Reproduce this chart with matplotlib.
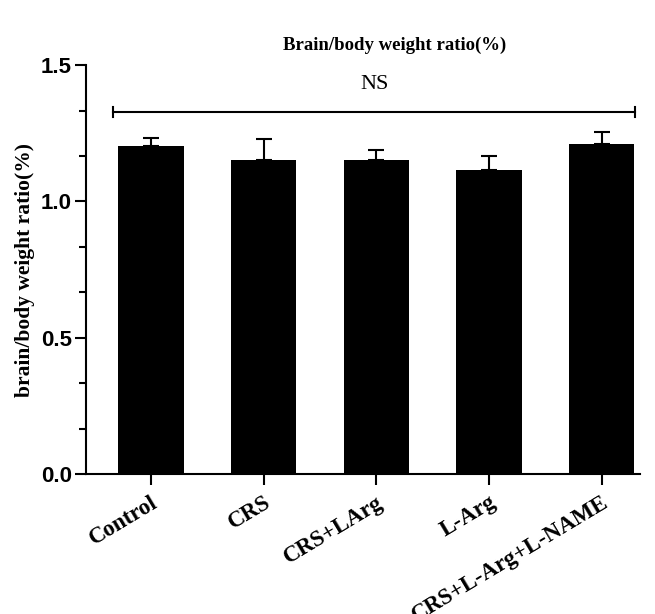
import matplotlib
matplotlib.use("Agg")
import matplotlib.pyplot as plt
from matplotlib.ticker import MultipleLocator

# data
groups = ["Control", "CRS", "CRS+LArg", "L-Arg", "CRS+L-Arg+L-NAME"]
means = [1.202, 1.153, 1.150, 1.115, 1.212]
sem = [0.032, 0.076, 0.037, 0.050, 0.044]
ns_level = 1.328

serif = "Liberation Serif"
sans = "Liberation Sans"

fig = plt.figure(figsize=(6.55, 6.14), dpi=100)
ax = fig.add_axes([0.131, 0.228, 0.846, 0.666])

x = list(range(len(groups)))
ax.bar(x, means, width=0.58, color="black", zorder=2)
ax.errorbar(x, means, yerr=[[0] * len(sem), sem], fmt="none", ecolor="black",
            elinewidth=1.5, capsize=6, capthick=1.5, zorder=1)

# NS bracket across all groups
ax.plot([-0.34, 4.30], [ns_level, ns_level], color="black", lw=1.5)
for xe in (-0.34, 4.30):
    ax.plot([xe, xe], [ns_level - 0.02, ns_level + 0.02], color="black", lw=1.5)
ax.text(1.98, ns_level + 0.1, "NS", ha="center", va="center",
        family=serif, fontsize=16)

ax.set_xlim(-0.58, 4.34)
ax.set_ylim(0, 1.5)
ax.yaxis.set_major_locator(MultipleLocator(0.5))
ax.yaxis.set_minor_locator(MultipleLocator(0.5 / 3))

for side in ("top", "right"):
    ax.spines[side].set_visible(False)
for side in ("left", "bottom"):
    ax.spines[side].set_linewidth(1.5)

ax.tick_params(axis="y", which="major", length=8, width=1.5, direction="out", pad=2)
ax.tick_params(axis="y", which="minor", length=5, width=1.5, direction="out")
ax.tick_params(axis="x", length=8, width=1.5, direction="out", pad=5)

ax.set_yticks([0, 0.5, 1.0, 1.5])
ax.set_yticklabels(["0.0", "0.5", "1.0", "1.5"], family=sans,
                   fontweight="bold", fontsize=16)
ax.set_xticks(x)
ax.set_xticklabels(groups, family=serif, fontweight="bold", fontsize=16.5,
                   rotation=31, ha="right", rotation_mode="anchor")

ax.set_ylabel("brain/body weight ratio(%)", family=serif, fontweight="bold",
              fontsize=15.5, labelpad=4)
fig.text(0.603, 1 - 45 / 614, "Brain/body weight ratio(%)", ha="center",
         va="center", family=serif, fontweight="bold", fontsize=13.5)

fig.savefig("out.png", dpi=100)
